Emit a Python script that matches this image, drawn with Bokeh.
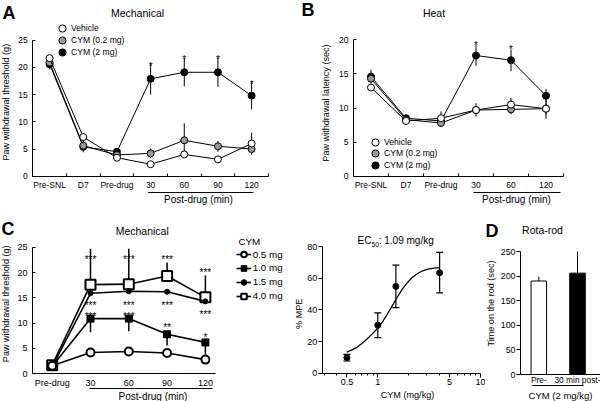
import math
from bokeh.plotting import figure
from bokeh.layouts import row, column
from bokeh.models import (Label, BoxAnnotation, Legend, LegendItem, FixedTicker,
                          Range1d, Whisker, ColumnDataSource, TeeHead, NumeralTickFormatter)
from bokeh.core.properties import value
from bokeh.embed import file_html
from bokeh.resources import INLINE

FONT = "Liberation Sans"

# ---------------- data ----------------
# Panel A: mechanical threshold (g)
a_categories = ["Pre-SNL", "D7", "Pre-drug", "30", "60", "90", "120"]
a_vehicle = [21.7, 7.2, 3.4, 2.2, 4.0, 3.1, 6.0]
a_vehicle_err = [0.5, 0.7, 0.4, 0.4, 0.5, 0.3, 2.0]
a_cym02 = [20.9, 5.6, 3.9, 4.2, 6.6, 5.5, 5.0]
a_cym02_err = [0.5, 0.8, 0.5, 0.9, 3.1, 1.0, 1.0]
a_cym2 = [20.6, 5.4, 4.5, 17.9, 19.1, 19.1, 14.8]
a_cym2_err = [1.0, 1.0, 0.5, 2.9, 2.6, 2.7, 2.5]
a_star_cat = ["30", "60", "90", "120"]
a_star_y = [21.1, 22.5, 22.5, 17.8]
a_yticks = [0, 5, 10, 15, 20, 25]

# Panel B: heat latency (sec)
b_categories = ["Pre-SNL", "D7", "Pre-drug", "30", "60", "120"]
b_vehicle = [13.0, 8.1, 8.5, 9.7, 10.5, 9.9]
b_vehicle_err = [0.4, 0.3, 1.0, 1.0, 1.0, 1.5]
b_cym02 = [14.3, 8.3, 7.8, 9.7, 9.8, 9.9]
b_cym02_err = [0.5, 0.3, 0.5, 0.5, 0.7, 0.8]
b_cym2 = [14.6, 8.5, 8.1, 17.7, 17.0, 11.8]
b_cym2_err = [1.0, 0.3, 0.5, 1.5, 1.6, 1.0]
b_star_cat = ["30", "60"]
b_star_y = [19.9, 19.4]
b_yticks = [0, 5, 10, 15, 20]

# Panel C: dose series (g)
c_categories = ["Pre-drug", "30", "60", "90", "120"]
c_05 = [1.6, 4.2, 4.4, 4.1, 2.8]
c_05_err = [0.4, 0.6, 0.5, 0.5, 0.4]
c_10 = [1.5, 10.9, 10.9, 7.8, 6.2]
c_10_err_down = [0.3, 2.7, 2.5, 2.2, 2.4]
c_15 = [1.4, 15.9, 16.3, 16.2, 14.3]
c_40 = [1.7, 17.6, 17.7, 19.3, 15.1]
c_40_err_up = [0.3, 7.1, 7.0, 2.7, 4.3]
c_star_cat = ["30", "30", "30", "60", "60", "60", "90", "90", "90", "120", "120", "120"]
c_star_y = [23.7, 14.6, 12.5, 23.7, 14.6, 12.5, 23.7, 14.6, 10.2, 21.0, 12.8, 8.2]
c_star_text = ["***", "***", "***", "***", "***", "***", "***", "***", "**", "***", "***", "*"]
c_yticks = [0, 5, 10, 15, 20, 25]

# Panel E: dose-response (% MPE)
e_dose = [0.5, 1.0, 1.5, 4.0]
e_mpe = [9.8, 30.3, 54.8, 63.5]
e_err = [2.1, 7.8, 13.4, 12.8]
e_fit_dose = [0.5, 0.56, 0.63, 0.7, 0.79, 0.89, 1.0, 1.1, 1.23, 1.38, 1.54, 1.72,
              1.93, 2.15, 2.42, 2.7, 3.02, 3.5, 4.0]
e_fit_mpe = [13.3, 14.7, 16.5, 18.8, 21.7, 25.0, 28.6, 32.0, 37.0, 42.5, 47.8, 52.8,
             57.0, 60.3, 62.8, 64.5, 65.6, 66.3, 66.6]
e_xticks = [0.5, 1, 5, 10]
e_xminor = [0.3, 0.4, 0.6, 0.7, 0.8, 0.9, 2, 3, 4, 6, 7, 8, 9]
e_yticks = [0, 20, 40, 60, 80]

# Panel D: rota-rod (sec)
d_categories = ["Pre-", "30 min post-"]
d_time = [190, 206]
d_err_up = [9, 44]
d_colors = ["white", "black"]
d_yticks = [0, 50, 100, 150, 200, 250]

GRAY = "#9a9a9a"


# ---------------- geometry helpers (pixel layout of each panel) ----------------
class Geo:
    """Panel box in page pixels plus a linear pixel->data mapping given by two
    reference points per axis (x may be logarithmic)."""

    def __init__(self, x0, y0, w, h, xa, xb, ya, yb, xlog=False):
        self.x0, self.y0, self.w, self.h, self.xlog = x0, y0, w, h, xlog
        self.xa, self.kx = xa, (xb[1] - xa[1]) / (xb[0] - xa[0])
        self.ya, self.ky = ya, (yb[1] - ya[1]) / (yb[0] - ya[0])

    def xval(self, px):
        v = self.xa[1] + (px - self.xa[0]) * self.kx
        return 10 ** v if self.xlog else v

    def yval(self, py):
        return self.ya[1] + (py - self.ya[0]) * self.ky

    def x_range(self):
        return Range1d(self.xval(self.x0), self.xval(self.x0 + self.w))

    def y_range(self):
        return Range1d(self.yval(self.y0 + self.h), self.yval(self.y0))

    def sx(self, px):
        return px - self.x0

    def sy(self, py):
        return self.y0 + self.h - py


def make_fig(g, x_axis_type="linear"):
    p = figure(width=g.w, height=g.h, x_range=g.x_range(), y_range=g.y_range(), title=None,
               x_axis_type=x_axis_type, output_backend="svg", toolbar_location=None,
               min_border=0, min_border_left=0, min_border_right=0, min_border_top=0,
               min_border_bottom=0)
    p.outline_line_color = None
    p.xgrid.visible = False
    p.ygrid.visible = False
    for ax in list(p.xaxis) + list(p.yaxis):
        ax.axis_line_color = "black"
        ax.axis_line_width = 1
        ax.major_tick_line_color = "black"
        ax.minor_tick_line_color = "black"
        ax.major_label_text_font = FONT
        ax.major_label_text_color = "black"
        ax.minor_tick_in = 0
        ax.minor_tick_out = 0
    return p


def put_text(p, g, px, py, text, size, bold=False, align="center", angle=0.0):
    p.add_layout(Label(x=g.sx(px), y=g.sy(py), x_units="screen", y_units="screen",
                       text=text, text_font=FONT, text_font_size=f"{size}px",
                       text_font_style="bold" if bold else "normal", angle=angle,
                       text_align=align, text_baseline="middle", text_color="black"))


def put_hline(p, g, px0, px1, py):
    y = g.sy(py)
    p.add_layout(BoxAnnotation(left=g.sx(px0), right=g.sx(px1), bottom=y - 0.5, top=y + 0.5,
                               left_units="screen", right_units="screen",
                               top_units="screen", bottom_units="screen",
                               fill_color="black", fill_alpha=1, line_color=None))


def legend_row(p, g, label, renderers, glyph_left_px, center_py, gw, gh, standoff, size):
    p.add_layout(Legend(items=[LegendItem(label=label, renderers=renderers)],
                        location=(g.sx(glyph_left_px), g.sy(center_py) - gh / 2),
                        orientation="vertical", glyph_width=gw, glyph_height=gh,
                        label_height=gh, label_width=10, spacing=0, padding=0, margin=0,
                        label_standoff=standoff, border_line_color=None,
                        background_fill_alpha=0, label_text_font=FONT,
                        label_text_font_size=f"{size}px", label_text_color="black"))


def err_segments(p, x, y, lo, hi, width=1):
    p.segment(x0=x, y0=[v - e for v, e in zip(y, lo)], x1=x,
              y1=[v + e for v, e in zip(y, hi)], line_color="black", line_width=width)


def time_course(p, x, vehicle, vehicle_err, cym02, cym02_err, cym2, cym2_err):
    for yv, ev in [(cym2, cym2_err), (cym02, cym02_err), (vehicle, vehicle_err)]:
        err_segments(p, x, yv, ev, ev)
    rs = []
    for yv, fill in [(cym2, "black"), (cym02, GRAY), (vehicle, "white")]:
        p.line(x, yv, line_color="black", line_width=1)
        rs.append(p.scatter(x, yv, marker="circle", size=7, fill_color=fill,
                            line_color="black", line_width=1))
    return rs[2], rs[1], rs[0]


def cat_axis(p, cats, tick_size, standoff, minor=True):
    xs = list(range(len(cats)))
    p.xaxis.ticker = FixedTicker(ticks=xs, minor_ticks=[i + 0.5 for i in xs] if minor else [])
    p.xaxis.major_label_overrides = {i: c for i, c in enumerate(cats)}
    p.xaxis.major_tick_in = 0
    p.xaxis.major_tick_out = 0
    p.xaxis.minor_tick_in = 3 if minor else 0
    p.xaxis.minor_tick_out = 0
    p.xaxis.major_label_standoff = standoff
    p.xaxis.major_label_text_font_size = tick_size


def y_axis(p, ticks, size, standoff, tick_in, tick_out):
    p.yaxis.ticker = FixedTicker(ticks=ticks)
    p.yaxis.major_tick_in = tick_in
    p.yaxis.major_tick_out = tick_out
    p.yaxis.major_label_standoff = standoff
    p.yaxis.major_label_text_font_size = size


def stars(p, cats, star_cat, star_y, texts, size):
    p.text(x=[cats.index(c) for c in star_cat], y=star_y, text=texts,
           text_font=value(FONT), text_font_size=size, text_align="center",
           text_baseline="alphabetic", y_offset=5.5, text_color="black")


UP = math.pi / 2

# ================= Panel A =================
gA = Geo(0, 0, 300, 205, (49.1, 0), (82.77, 1), (175.7, 0), (39.7, 25))
pA = make_fig(gA)
a_x = list(range(len(a_categories)))
rv, rg, rb = time_course(pA, a_x, a_vehicle, a_vehicle_err, a_cym02, a_cym02_err, a_cym2, a_cym2_err)
stars(pA, a_categories, a_star_cat, a_star_y, ["*"] * len(a_star_cat), "10px")
cat_axis(pA, a_categories, "8.5px", 4)
y_axis(pA, a_yticks, "8.5px", 5, 3, 0)
pA.xaxis.fixed_location = a_yticks[0]
pA.xaxis.bounds = (gA.xval(32.3), gA.xval(268))
pA.yaxis.fixed_location = gA.xval(32.3)
pA.yaxis.bounds = (a_yticks[0], a_yticks[-1])
legend_row(pA, gA, "Vehicle", [rv], 53, 28, 18, 18, 0, 8.6)
legend_row(pA, gA, "CYM (0.2 mg)", [rg], 53, 40, 18, 18, 0, 8.6)
legend_row(pA, gA, "CYM (2 mg)", [rb], 53, 51.5, 18, 18, 0, 8.6)
put_text(pA, gA, 8.5, 12, "A", 18, bold=True)
put_text(pA, gA, 137, 12, "Mechanical", 10.5)
put_text(pA, gA, 5, 101.7, "Paw withdrawal threshold (g)", 9.1, angle=UP)
put_hline(pA, gA, 147.7, 253, 192)
put_text(pA, gA, 198, 199, "Post-drug (min)", 10)

# ================= Panel B =================
gB = Geo(300, 0, 300, 205, (370.5, 0), (405.5, 1), (175.7, 0), (39.3, 20))
pB = make_fig(gB)
b_x = list(range(len(b_categories)))
rv2, rg2, rb2 = time_course(pB, b_x, b_vehicle, b_vehicle_err, b_cym02, b_cym02_err, b_cym2, b_cym2_err)
stars(pB, b_categories, b_star_cat, b_star_y, ["*"] * len(b_star_cat), "10px")
cat_axis(pB, b_categories, "8.5px", 4)
y_axis(pB, b_yticks, "8.5px", 5, 3, 0)
pB.xaxis.fixed_location = b_yticks[0]
pB.xaxis.bounds = (gB.xval(353), gB.xval(563))
pB.yaxis.fixed_location = gB.xval(353)
pB.yaxis.bounds = (b_yticks[0], b_yticks[-1])
legend_row(pB, gB, "Vehicle", [rv2], 366, 142, 18, 18, 0, 8.6)
legend_row(pB, gB, "CYM (0.2 mg)", [rg2], 366, 153, 18, 18, 0, 8.6)
legend_row(pB, gB, "CYM (2 mg)", [rb2], 366, 164.5, 18, 18, 0, 8.6)
put_text(pB, gB, 307.5, 9, "B", 18, bold=True)
put_text(pB, gB, 433.5, 12, "Heat", 10.5)
put_text(pB, gB, 325.8, 102.5, "Paw withdrawal latency (sec)", 9.1, angle=UP)
put_hline(pB, gB, 473, 560, 192)
put_text(pB, gB, 516, 199, "Post-drug (min)", 10)

# ================= Panel C =================
gC = Geo(0, 205, 290, 196, (51.7, 0), (90.0, 1), (373.3, 0), (246.7, 25))
pC = make_fig(gC)
c_x = list(range(len(c_categories)))
err_segments(pC, c_x, c_40, [0] * len(c_x), c_40_err_up, 1.5)
err_segments(pC, c_x, c_10, c_10_err_down, [0] * len(c_x), 1.5)
err_segments(pC, c_x, c_05, c_05_err, c_05_err, 1.5)
c_specs = [(c_40, "square", 10, "white", 2), (c_15, "circle", 5, "black", 1),
           (c_10, "square", 7, "black", 1), (c_05, "circle", 8, "white", 2)]
c_r = []
for yv, mk, sz, fill, lw in c_specs:
    ln = pC.line(c_x, yv, line_color="black", line_width=1.6)
    sc = pC.scatter(c_x, yv, marker=mk, size=sz, fill_color=fill, line_color="black", line_width=lw)
    c_r.append([ln, sc])
stars(pC, c_categories, c_star_cat, c_star_y, c_star_text, "10px")
cat_axis(pC, c_categories, "9px", 4, minor=False)
y_axis(pC, c_yticks, "9px", 5, 3, 0)
pC.xaxis.fixed_location = c_yticks[0]
pC.xaxis.bounds = (gC.xval(32), gC.xval(215))
pC.yaxis.fixed_location = gC.xval(32)
pC.yaxis.bounds = (c_yticks[0], c_yticks[-1])
for lab, rr, cy in [("0.5 mg", c_r[3], 254.3), ("1.0 mg", c_r[2], 267.7),
                    ("1.5 mg", c_r[1], 281.7), ("4.0 mg", c_r[0], 295.7)]:
    legend_row(pC, gC, lab, rr, 235.7, cy, 15, 14, 2, 9.8)
put_text(pC, gC, 238, 240.5, "CYM", 9.8, align="left")
put_text(pC, gC, 7.5, 228.5, "C", 18, bold=True)
put_text(pC, gC, 141.7, 230.7, "Mechanical", 10.5)
put_text(pC, gC, 5.5, 303.3, "Paw withdrawal threshold (g)", 9.1, angle=UP)
put_hline(pC, gC, 89, 212, 388)
put_text(pC, gC, 152.5, 395.5, "Post-drug (min)", 10)

# ================= Panel E (dose response) =================
gE = Geo(290, 205, 195, 196, (377.3, 0), (480, 1), (372.7, 0), (246, 80), xlog=True)
pE = make_fig(gE, x_axis_type="log")
pE.line(e_fit_dose, e_fit_mpe, line_color="black", line_width=1.3)
srcE = ColumnDataSource(dict(x=e_dose, lo=[m - e for m, e in zip(e_mpe, e_err)],
                             hi=[m + e for m, e in zip(e_mpe, e_err)]))
pE.add_layout(Whisker(source=srcE, base="x", lower="lo", upper="hi", dimension="height",
                      line_color="black", line_width=1.2,
                      upper_head=TeeHead(size=7, line_color="black", line_width=1.2),
                      lower_head=TeeHead(size=7, line_color="black", line_width=1.2)))
pE.scatter(e_dose, e_mpe, marker="circle", size=6, fill_color="black", line_color="black")
pE.xaxis.ticker = FixedTicker(ticks=e_xticks, minor_ticks=e_xminor)
pE.xaxis.formatter = NumeralTickFormatter(format="0.[0]")
pE.xaxis.major_tick_in = 0
pE.xaxis.major_tick_out = 4
pE.xaxis.minor_tick_in = 0
pE.xaxis.minor_tick_out = 2
pE.xaxis.major_label_standoff = 2
pE.xaxis.major_label_text_font_size = "9px"
y_axis(pE, e_yticks, "9px", 1, 0, 4)
pE.xaxis.fixed_location = e_yticks[0]
pE.xaxis.bounds = (gE.xval(321.7), e_xticks[-1])
pE.yaxis.fixed_location = gE.xval(321.7)
pE.yaxis.bounds = (e_yticks[0], e_yticks[-1])
put_text(pE, gE, 357, 240, "EC", 10, align="left")
put_text(pE, gE, 371, 243.5, "50", 6.7, align="left")
put_text(pE, gE, 378.2, 240, ": 1.09 mg/kg", 10, align="left")
put_text(pE, gE, 298.3, 313.3, "% MPE", 9.1, angle=UP)
put_text(pE, gE, 407, 394.5, "CYM (mg/kg)", 9.1)

# ================= Panel D (rota-rod) =================
gD = Geo(485, 205, 115, 196, (538.3, 1), (577.0, 2), (374, 0), (251, 250))
pD = make_fig(gD)
d_x = [i + 1 for i in range(len(d_categories))]
err_segments(pD, d_x, d_time, [0] * len(d_x), d_err_up, 1)
pD.vbar(x=d_x, top=d_time, width=15.5 * gD.kx, fill_color=d_colors, line_color="black",
        line_width=1)
pD.xaxis.ticker = FixedTicker(ticks=d_x)
pD.xaxis.major_label_overrides = {x: c for x, c in zip(d_x, d_categories)}
pD.xaxis.major_tick_in = 0
pD.xaxis.major_tick_out = 0
pD.xaxis.major_label_standoff = 0
pD.xaxis.major_label_text_font_size = "8.4px"
y_axis(pD, d_yticks, "8.8px", 1, 0, 4)
pD.xaxis.fixed_location = d_yticks[0]
pD.xaxis.bounds = (gD.xval(520), gD.xval(600))
pD.yaxis.fixed_location = gD.xval(520)
pD.yaxis.bounds = (d_yticks[0], d_yticks[-1])
put_text(pD, gD, 491.5, 230, "D", 18, bold=True)
put_text(pD, gD, 542, 229, "Rota-rod", 10.5)
put_text(pD, gD, 490, 303, "Time on the rod (sec)", 9.1, angle=UP)
put_hline(pD, gD, 531.7, 583, 385)
put_text(pD, gD, 560, 395, "CYM (2 mg/kg)", 9.5)

layout = column(row(pA, pB, spacing=0), row(pC, pE, pD, spacing=0), spacing=0)

open("out.html", "w").write(file_html(layout, INLINE))
